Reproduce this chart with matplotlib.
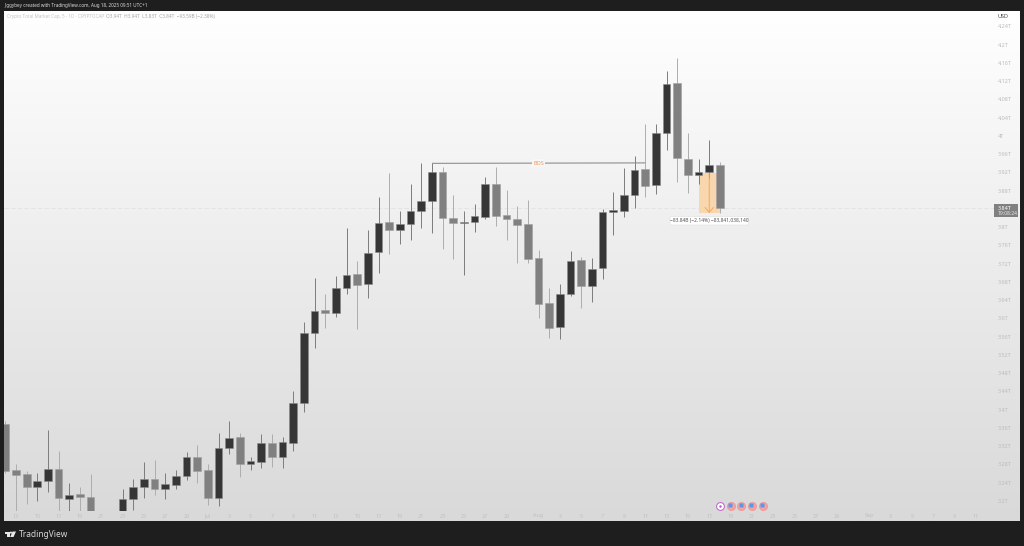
import numpy as np
import matplotlib
matplotlib.use("Agg")
import matplotlib.pyplot as plt
from matplotlib.colors import LinearSegmentedColormap
from matplotlib.patches import Rectangle, Polygon, Circle, FancyBboxPatch

plt.rcParams['font.family'] = ['Noto Sans', 'DejaVu Sans']

# daily candles, first one is Jun 12 2025, values in trillions
opens = [3.368, 3.267, 3.259, 3.230, 3.244, 3.270, 3.205, 3.215, 3.209, 3.160, 3.145, 3.160, 3.205, 3.231, 3.248, 3.226, 3.236, 3.255, 3.296,
         3.268, 3.207, 3.316, 3.340, 3.280, 3.286, 3.326, 3.297, 3.328, 3.415, 3.569, 3.619, 3.612, 3.667, 3.697, 3.676, 3.745, 3.811, 3.795, 3.806, 3.836,
         3.857, 3.920, 3.821, 3.809, 3.812, 3.823, 3.894, 3.827, 3.818, 3.806,
         3.732, 3.633, 3.581, 3.654, 3.728, 3.671, 3.710, 3.833, 3.836, 3.871, 3.927, 3.892, 4.007, 4.116, 3.950, 3.914, 3.921, 3.936]
closes = [3.266, 3.258, 3.230, 3.244, 3.270, 3.206, 3.214, 3.209, 3.165, 3.145, 3.160, 3.204, 3.231, 3.248, 3.226, 3.237, 3.255, 3.296, 3.266,
          3.207, 3.316, 3.339, 3.280, 3.287, 3.326, 3.297, 3.329, 3.415, 3.568, 3.617, 3.612, 3.666, 3.696, 3.674, 3.743, 3.810, 3.794, 3.806, 3.836, 3.858,
          3.920, 3.820, 3.809, 3.812, 3.824, 3.894, 3.825, 3.817, 3.805, 3.730,
          3.632, 3.579, 3.654, 3.727, 3.671, 3.709, 3.833, 3.837, 3.871, 3.925, 3.890, 4.007, 4.114, 3.951, 3.914, 3.920, 3.936, 3.843]
highs = [3.375, 3.281, 3.266, 3.261, 3.356, 3.310, 3.239, 3.231, 3.260, 3.178, 3.170, 3.226, 3.248, 3.285, 3.290, 3.261, 3.268, 3.307, 3.323,
         3.281, 3.349, 3.376, 3.348, 3.297, 3.347, 3.347, 3.340, 3.440, 3.592, 3.689, 3.653, 3.694, 3.798, 3.726, 3.794, 3.866, 3.918, 3.836, 3.894, 3.940,
         3.940, 3.931, 3.871, 3.836, 3.852, 3.909, 3.931, 3.881, 3.847, 3.860,
         3.749, 3.666, 3.675, 3.747, 3.735, 3.733, 3.839, 3.877, 3.929, 3.956, 4.026, 4.026, 4.142, 4.170, 4.007, 3.950, 3.991, 3.942]
lows = [3.261, 3.179, 3.193, 3.201, 3.220, 3.178, 3.175, 3.175, 3.150, 3.140, 3.130, 3.150, 3.180, 3.207, 3.214, 3.204, 3.226, 3.246, 3.239,
        3.192, 3.189, 3.304, 3.253, 3.268, 3.273, 3.274, 3.273, 3.310, 3.396, 3.536, 3.580, 3.603, 3.654, 3.578, 3.645, 3.700, 3.741, 3.763, 3.771, 3.799,
        3.788, 3.753, 3.730, 3.695, 3.790, 3.819, 3.803, 3.772, 3.721, 3.721,
        3.600, 3.557, 3.556, 3.649, 3.624, 3.637, 3.686, 3.784, 3.822, 3.842, 3.866, 3.873, 3.970, 3.900, 3.875, 3.895, 3.908, 3.831]

price_ticks = [4.24, 4.2, 4.16, 4.12, 4.08, 4.04, 4.0, 3.96, 3.92, 3.88, 3.8, 3.76, 3.72, 3.68, 3.64, 3.6,
               3.56, 3.52, 3.48, 3.44, 3.4, 3.36, 3.32, 3.28, 3.24, 3.2]
price_labels = ['4.24T', '4.2T', '4.16T', '4.12T', '4.08T', '4.04T', '4T', '3.96T', '3.92T', '3.88T', '3.8T', '3.76T', '3.72T',
                '3.68T', '3.64T', '3.6T', '3.56T', '3.52T', '3.48T', '3.44T', '3.4T', '3.36T', '3.32T', '3.28T', '3.24T', '3.2T']

date_idx = [1, 3, 5, 7, 9, 11, 13, 15, 17, 19, 21, 23, 25, 27, 29, 31, 33, 35, 37, 39, 41, 43, 45, 47, 50, 52, 54, 56, 58,
            60, 62, 64, 66, 68, 70, 72, 74, 76, 78, 81, 83, 85, 87, 89, 91]
date_labels = ['13', '15', '17', '19', '21', '23', '25', '27', '29', 'Jul', '3', '5', '7', '9', '11', '13', '15', '17', '19', '21',
               '23', '25', '27', '29', 'Aug', '3', '5', '7', '9', '11', '13', '15', '17', '19', '21', '23', '25', '27', '29',
               'Sep', '3', '5', '7', '9', '11']

bos_idx = [40, 60]
bos_price = [3.940, 3.941]
measure_idx = [65, 67]
measure_price = [3.918, 3.831]
last_price = 3.843
event_idx = [67, 68, 69, 70, 71]

W, H = 1024, 546
DARK = '#363636'
GREY = '#808080'

fig = plt.figure(figsize=(W / 100, H / 100), dpi=100, facecolor='#1e1e1e')

# panel background
bg = fig.add_axes([4 / W, (H - 521.5) / H, 1015.5 / W, 511 / H])
cm = LinearSegmentedColormap.from_list('bg', ['#ffffff', '#d9d9d9'])
bg.imshow(np.linspace(0, 1, 256).reshape(-1, 1), cmap=cm, aspect='auto')
bg.axis('off')

# main pane, 10.667 px per day
ax = fig.add_axes([4 / W, (H - 511) / H, 990 / W, 500.3 / H])
ax.patch.set_alpha(0)
ax.set_xlim(-0.125, 92.7)
ax.set_ylim(3.178, 4.2746)
for s in ax.spines.values():
    s.set_visible(False)

ax.yaxis.tick_right()
ax.set_yticks(price_ticks)
ax.set_yticklabels(price_labels, fontsize=3.9, color='#bcbcbc')
ax.set_xticks(date_idx)
ax.set_xticklabels(date_labels, fontsize=3.9, color='#c0c0c0')
ax.tick_params(axis='both', length=0)
ax.tick_params(axis='y', pad=2.6)
ax.tick_params(axis='x', pad=1.8)

# current price line
ax.axhline(last_price, color='#e4e4e4', lw=0.8, ls=(0, (4, 2)), zorder=1)

# measure tool
ax.add_patch(Rectangle((measure_idx[0], measure_price[1]), measure_idx[1] - measure_idx[0],
                       measure_price[0] - measure_price[1], fc='#f9d7ae', ec='none', zorder=1.5))

idx = np.arange(len(opens))
opens = np.array(opens)
closes = np.array(closes)
up = closes >= opens
ax.vlines(idx[up], np.array(lows)[up], np.array(highs)[up], color='#7c7c7c', lw=0.7, zorder=2)
ax.vlines(idx[~up], np.array(lows)[~up], np.array(highs)[~up], color='#adadad', lw=0.7, zorder=2)
ax.bar(idx[up], (closes - opens)[up], bottom=opens[up], width=0.72, color=DARK, edgecolor='#8a8a8a', lw=0.4, zorder=3)
ax.bar(idx[~up], (closes - opens)[~up], bottom=opens[~up], width=0.72, color=GREY, edgecolor='#a0a0a0', lw=0.4, zorder=3)

ax.annotate('', xy=(66, measure_price[1]), xytext=(66, measure_price[0]),
            arrowprops=dict(arrowstyle='->,head_length=0.35,head_width=0.3', color='#f3a860', lw=0.7, mutation_scale=10, shrinkA=0, shrinkB=0), zorder=4)

# BOS line
ax.plot(bos_idx, bos_price, color='#8e8e8e', lw=0.8, zorder=2.5, solid_capstyle='butt')
ax.text(np.mean(bos_idx), np.mean(bos_price), 'BOS', fontsize=3.9, color='#f0965a', ha='center', va='center', zorder=4,
        bbox=dict(fc='#f6f6f6', ec='none', pad=0.8))

# events along the bottom
ax.plot(event_idx[0], 3.189, 'o', ms=5.6, mfc='#ffffff', mec='#c05ad0', mew=0.7, zorder=5)
ax.plot(event_idx[0], 3.189, 'o', ms=1.8, mfc='#c05ad0', mec='none', zorder=6)
for e in event_idx[1:]:
    ax.plot(e, 3.189, 'o', ms=5.8, mfc='#f4a3a3', mec='#f28f8f', mew=0.5, zorder=5)
    ax.plot(e - 0.05, 3.1905, 's', ms=2.4, mfc='#5b97e4', mec='none', zorder=6)

# overlay in pixels for the window chrome
ov = fig.add_axes([0, 0, 1, 1])
ov.set_xlim(0, W)
ov.set_ylim(H, 0)
ov.axis('off')
ov.patch.set_alpha(0)

ov.text(4.5, 5.7, 'Jiggybey created with TradingView.com, Aug 18, 2025 09:51 UTC+1', fontsize=3.3, color='#dcdcdc', va='center')
ov.text(7, 16.3, 'Crypto Total Market Cap, 5 · 1D · CRYPTOCAP', fontsize=3.3, color='#c4c4c4', va='center')
ov.text(106, 16.3, 'O3.94T  H3.94T  L3.83T  C3.84T  \u221293.59B (\u22122.38%)', fontsize=3.4, color='#a8a8a8', va='center')

ov.add_patch(Rectangle((995.7, 11), 22.3, 11, fc='#ffffff', ec='none'))
ov.text(1003.5, 17, 'USD', fontsize=3.9, color='#444444', ha='center', va='center')

ov.add_patch(Rectangle((994.3, 204.3), 23.7, 13, fc='#808080', ec='none'))
ov.text(998, 208, '3.84T', fontsize=3.9, color='#ffffff', va='center')
ov.text(998, 213.7, '19:08:24', fontsize=3.6, color='#e6e6e6', va='center')

ov.add_patch(FancyBboxPatch((670, 216.5), 78.5, 8.5, boxstyle='round,pad=0,rounding_size=1.5', fc='#ffffff', ec='#e4e4e4', lw=0.5))
ov.text(709.3, 220.8, '\u221283.84B (\u22122.14%) \u221283,841,038,140', fontsize=3.55, color='#555555', ha='center', va='center')

# TradingView logo
ov.add_patch(Polygon([(5, 531.5), (9.7, 531.5), (9.7, 537), (7, 537), (7, 533.6), (5, 533.6)], fc='#e8e8e8', ec='none'))
ov.add_patch(Circle((11, 532.6), 1.05, fc='#e8e8e8', ec='none'))
ov.add_patch(Polygon([(12.6, 531.5), (16, 531.5), (13.5, 537), (10.2, 537)], fc='#e8e8e8', ec='none'))
ov.text(19, 534.2, 'TradingView', fontsize=6.0, color='#d8d8d8', va='center', fontweight='medium')

fig.savefig('out.png', dpi=100, facecolor=fig.get_facecolor())
